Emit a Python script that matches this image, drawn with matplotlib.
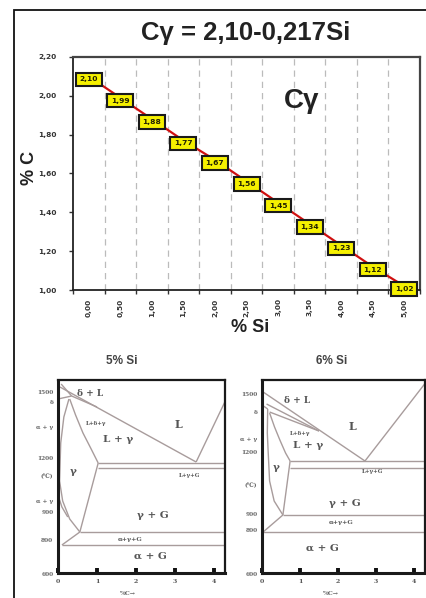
import matplotlib
matplotlib.use("Agg")
import matplotlib.pyplot as plt
from matplotlib.patches import Rectangle

# ---------------- data: top chart ----------------
si_labels = ["0,00", "0,50", "1,00", "1,50", "2,00", "2,50", "3,00", "3,50", "4,00", "4,50", "5,00"]
c_gamma = [2.10, 1.99, 1.88, 1.77, 1.67, 1.56, 1.45, 1.34, 1.23, 1.12, 1.02]
c_labels = ["2,10", "1,99", "1,88", "1,77", "1,67", "1,56", "1,45", "1,34", "1,23", "1,12", "1,02"]
y_ticks = [1.0, 1.2, 1.4, 1.6, 1.8, 2.0, 2.2]
y_ticklabels = ["1,00", "1,20", "1,40", "1,60", "1,80", "2,00", "2,20"]

# ---------------- data: phase diagrams (%C, T in C) ----------------
pd_xticks = [0, 1, 2, 3, 4]
pd_xticklabels = ["0", "1", "2", "3", "4"]

si5_lines = [
    ([0.05, 3.54], [1530, 1155]),                 # liquidus
    ([3.54, 4.30], [1155, 1465]),                 # graphite liquidus
    ([1.03, 4.30], [1150, 1150]),                 # eutectic upper
    ([1.03, 4.30], [1125, 1125]),                 # eutectic lower
    ([0.30, 0.45, 0.64, 0.85, 1.03], [1470, 1390, 1300, 1220, 1150]),  # solidus
    ([1.03, 0.56], [1150, 805]),                  # gamma / gamma+G
    ([0.56, 4.30], [805, 805]),                   # eutectoid upper
    ([0.10, 4.30], [740, 740]),                   # eutectoid lower
    ([0.56, 0.10], [805, 740]),
    ([0.28, 0.15, 0.07, 0.04, 0.12, 0.30, 0.56], [1470, 1380, 1250, 1060, 960, 870, 805]),
    ([0.00, 0.10, 0.25], [990, 930, 880]),
    ([0.00, 0.35], [1470, 1485]),
    ([0.08, 0.35], [1545, 1485]),
    ([0.35, 1.00], [1485, 1430]),
]
si5_texts = [
    ("δ + L", 0.82, 1495, 6.5), ("L+δ+γ", 0.98, 1350, 4.0), ("L + γ", 1.55, 1265, 7.5),
    ("L", 3.08, 1345, 8.0), ("γ", 0.38, 1110, 7.5), ("L+γ+G", 3.38, 1085, 4.0),
    ("γ + G", 2.44, 890, 7.5), ("α+γ+G", 1.85, 768, 4.5), ("α + G", 2.36, 685, 7.5),
]
si5_side = [("1500", 1500), ("δ", 1450), ("α + γ", 1330), ("1200", 1170),
            ("(℃)", 1085), ("α + γ", 960), ("900", 900), ("800", 760), ("600", 595)]

si6_lines = [
    ([0.03, 2.71], [1505, 1160]),                 # liquidus
    ([2.71, 4.30], [1160, 1550]),                 # graphite liquidus
    ([0.74, 4.30], [1160, 1160]),
    ([0.74, 4.30], [1125, 1125]),
    ([0.20, 0.33, 0.47, 0.62, 0.74], [1400, 1330, 1265, 1200, 1160]),  # solidus
    ([0.74, 0.55], [1160, 890]),
    ([0.55, 4.30], [890, 890]),
    ([0.03, 4.30], [805, 805]),
    ([0.55, 0.03], [890, 805]),
    ([0.15, 0.14, 0.16, 0.20, 0.32, 0.55], [1420, 1300, 1215, 1060, 960, 890]),
    ([0.20, 1.50], [1405, 1310]),
    ([0.12, 1.50], [1445, 1310]),
    ([0.00, 0.15], [1440, 1420]),
]
si6_texts = [
    ("δ + L", 0.92, 1462, 6.5), ("L+δ+γ", 1.00, 1300, 4.0), ("L + γ", 1.21, 1240, 7.5),
    ("L", 2.39, 1330, 8.0), ("γ", 0.37, 1130, 7.5), ("L+γ+G", 2.92, 1105, 4.0),
    ("γ + G", 2.18, 950, 7.5), ("α+γ+G", 2.08, 852, 4.5), ("α + G", 1.60, 725, 7.5),
]
si6_side = [("1500", 1490), ("δ", 1405), ("α + γ", 1265), ("1200", 1200),
            ("(℃)", 1040), ("900", 895), ("800", 810), ("600", 590)]

W, H = 426, 598
fig = plt.figure(figsize=(W / 100, H / 100), dpi=100)
fig.patch.set_facecolor("white")


def rect(x0, y0, x1, y1):
    return [x0 / W, 1 - y1 / H, (x1 - x0) / W, (y1 - y0) / H]


# outer frame
fig.add_artist(Rectangle((14 / W, -0.05), 1.2, 1 - 10 / H + 0.05, transform=fig.transFigure,
                         fill=False, edgecolor="#111111", linewidth=1.3))

# ---------------- top chart ----------------
ax = fig.add_axes(rect(73, 57, 420, 290))
xs = list(range(len(c_gamma)))
ax.plot(xs, c_gamma, color="#d01010", linewidth=1.6, zorder=2)
for x, y, t in zip(xs, c_gamma, c_labels):
    ax.text(x, y - 0.015, t, ha="center", va="center", fontsize=5.4, fontweight="bold",
            color="#222200", zorder=4,
            bbox=dict(boxstyle="square,pad=0.5", facecolor="#f5f000", edgecolor="#1a1a1a", linewidth=1.5))
ax.set_xlim(-0.5, len(c_gamma) - 0.5)
ax.set_ylim(1.0, 2.2)
ax.set_yticks(y_ticks)
ax.set_yticklabels(y_ticklabels, fontsize=5.3, fontweight="bold", color="#333333")
ax.set_xticks(xs)
ax.set_xticklabels(si_labels, rotation=90, fontsize=5.3, fontweight="bold", color="#333333")
ax.set_xticks([i - 0.5 for i in range(len(c_gamma) + 1)], minor=True)
ax.tick_params(axis="x", which="major", length=0, pad=6)
ax.tick_params(axis="x", which="minor", length=3, width=1, direction="out", color="#333333")
ax.tick_params(axis="y", length=3, width=1, direction="out", color="#333333", pad=9)
for i in range(1, len(c_gamma)):
    ax.axvline(i - 0.5, color="#bbbbbb", linestyle=(0, (5, 4)), linewidth=0.9, zorder=1)
for s in ["left", "bottom"]:
    ax.spines[s].set_color("#222222")
    ax.spines[s].set_linewidth(1.3)
for s in ["top", "right"]:
    ax.spines[s].set_color("#444444")
    ax.spines[s].set_linewidth(1.6)

fig.text(246 / W, 1 - 33 / H, "Cγ = 2,10-0,217Si", ha="center", va="center",
         fontsize=18.5, fontweight="bold", color="#222222", family="Liberation Sans")
fig.text(302 / W, 1 - 101 / H, "Cγ", ha="center", va="center",
         fontsize=20, fontweight="bold", color="#222222", family="Liberation Sans")
fig.text(30 / W, 1 - 168 / H, "% C", ha="center", va="center", rotation=90,
         fontsize=13, fontweight="bold", color="#222222", family="Liberation Sans")
fig.text(250 / W, 1 - 328 / H, "% Si", ha="center", va="center",
         fontsize=13, fontweight="bold", color="#222222", family="Liberation Sans")

fig.text(122 / W, 1 - 361 / H, "5% Si", ha="center", va="center",
         fontsize=8.5, fontweight="bold", color="#444444", family="Liberation Sans")
fig.text(332 / W, 1 - 361 / H, "6% Si", ha="center", va="center",
         fontsize=8.5, fontweight="bold", color="#444444", family="Liberation Sans")


def phase(axp, lines, texts, side, xmax):
    for cx, ty in lines:
        axp.plot(cx, ty, color="#a89c9c", linewidth=1.0, solid_capstyle="butt")
    for t, cx, ty, fs in texts:
        axp.text(cx, ty, t, ha="center", va="center", fontsize=fs, fontweight="bold",
                 color="#555555", family="DejaVu Serif")
    for t, ty in side:
        axp.text(-0.12, ty, t, ha="right", va="center", fontsize=4.2, fontweight="bold",
                 color="#666666", family="DejaVu Serif", clip_on=False)
    axp.set_xlim(0, xmax)
    axp.set_ylim(600, 1565)
    axp.set_xticks(pd_xticks)
    axp.set_xticklabels(pd_xticklabels, fontsize=4.5, color="#555555", family="DejaVu Serif",
                        fontweight="bold")
    axp.tick_params(axis="x", direction="in", length=3.5, width=2.8, color="#111111", pad=4)
    axp.set_yticks([])
    for s in axp.spines.values():
        s.set_color("#1a1a1a")
        s.set_linewidth(1.6)
    axp.spines["left"].set_linewidth(2.2)
    axp.spines["bottom"].set_linewidth(2.2)
    axp.text(0.42, -0.105, "%C→", transform=axp.transAxes, ha="center", va="center",
             fontsize=4.5, color="#666666", family="DejaVu Serif", fontweight="bold")


ax1 = fig.add_axes(rect(58, 380, 225, 573))
phase(ax1, si5_lines, si5_texts, si5_side, 4.28)
ax2 = fig.add_axes(rect(262, 380, 425, 573))
phase(ax2, si6_lines, si6_texts, si6_side, 4.29)

fig.savefig("out.png", dpi=100, facecolor="white")
